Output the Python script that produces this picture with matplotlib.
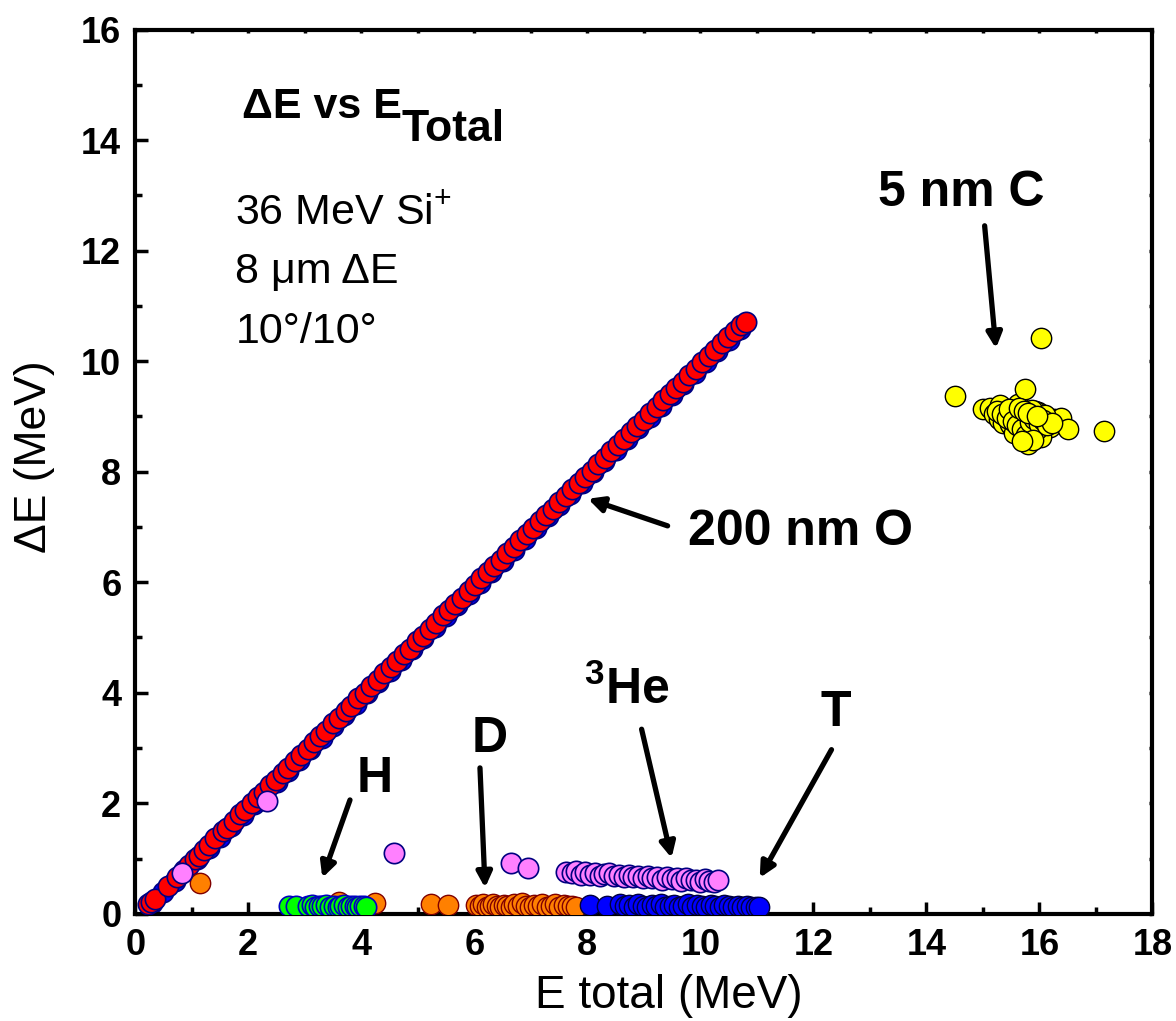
import matplotlib
matplotlib.use("Agg")
import matplotlib.pyplot as plt
from matplotlib.ticker import MultipleLocator

plt.rcParams['font.family'] = ['Liberation Sans', 'DejaVu Sans']
plt.rcParams['mathtext.fontset'] = 'custom'
plt.rcParams['mathtext.rm'] = 'Liberation Sans'
plt.rcParams['mathtext.it'] = 'Liberation Sans:italic'
plt.rcParams['mathtext.bf'] = 'Liberation Sans:bold'

# 200 nm O surface peak (diagonal band)
o_e = [0.22, 0.28, 0.35, 0.58, 0.74, 0.86, 0.95, 1.05, 1.12, 1.22, 1.31, 1.42,
       1.55, 1.63, 1.74, 1.86, 1.95, 2.06, 2.18, 2.27, 2.38, 2.49, 2.61, 2.70,
       2.82, 2.93, 3.05, 3.16, 3.27, 3.38, 3.50, 3.61, 3.73, 3.82, 3.95, 4.06,
       4.18, 4.29, 4.41, 4.52, 4.63, 4.75, 4.86, 4.98, 5.09, 5.21, 5.32, 5.44,
       5.55, 5.66, 5.78, 5.90, 6.01, 6.12, 6.24, 6.35, 6.47, 6.58, 6.70, 6.81,
       6.93, 7.04, 7.16, 7.27, 7.39, 7.50, 7.62, 7.73, 7.85, 7.96, 8.08, 8.19,
       8.31, 8.42, 8.54, 8.65, 8.77, 8.88, 9.00, 9.11, 9.23, 9.34, 9.46, 9.57,
       9.69, 9.80, 9.92, 10.03, 10.15, 10.26, 10.38, 10.49, 10.61, 10.72, 10.80]
o_de = [0.18, 0.22, 0.26, 0.50, 0.66, 0.80, 0.88, 1.00, 1.05, 1.16, 1.24, 1.37,
        1.50, 1.56, 1.68, 1.80, 1.88, 2.01, 2.12, 2.20, 2.33, 2.42, 2.55, 2.63,
        2.76, 2.87, 2.98, 3.10, 3.21, 3.31, 3.45, 3.55, 3.67, 3.76, 3.90, 4.00,
        4.12, 4.23, 4.36, 4.46, 4.58, 4.70, 4.80, 4.93, 5.03, 5.16, 5.26, 5.40,
        5.49, 5.61, 5.72, 5.85, 5.95, 6.07, 6.18, 6.30, 6.41, 6.53, 6.64, 6.76,
        6.87, 6.99, 7.10, 7.22, 7.33, 7.45, 7.56, 7.68, 7.79, 7.91, 8.02, 8.14,
        8.25, 8.37, 8.48, 8.60, 8.71, 8.83, 8.94, 9.06, 9.17, 9.29, 9.40, 9.52,
        9.63, 9.75, 9.86, 9.98, 10.09, 10.21, 10.32, 10.44, 10.55, 10.66, 10.70]

# underlying blue events along the diagonal
ob_e = [0.30, 0.50, 0.70, 0.90, 1.10, 1.30, 1.50, 1.70, 1.90, 2.10, 2.30, 2.50,
        2.70, 2.90, 3.10, 3.30, 3.50, 3.70, 3.90, 4.10, 4.30, 4.50, 4.70, 4.90,
        5.10, 5.30, 5.50, 5.70, 5.90, 6.10, 6.30, 6.50, 6.70, 6.90, 7.10, 7.30,
        7.50, 7.70, 7.90, 8.10, 8.30, 8.50, 8.70, 8.90, 9.10, 9.30, 9.50, 9.70,
        9.90, 10.10, 10.30, 10.50, 10.70]
ob_de = [0.20, 0.40, 0.59, 0.79, 0.99, 1.19, 1.39, 1.59, 1.79, 1.99, 2.19, 2.39,
         2.59, 2.79, 2.99, 3.19, 3.39, 3.59, 3.79, 3.99, 4.19, 4.39, 4.59, 4.79,
         4.99, 5.19, 5.39, 5.59, 5.79, 5.99, 6.19, 6.39, 6.59, 6.79, 6.99, 7.19,
         7.39, 7.59, 7.79, 7.99, 8.19, 8.39, 8.59, 8.79, 8.99, 9.19, 9.39, 9.59,
         9.79, 9.99, 10.19, 10.39, 10.59]

# H recoils
h_e = [2.72, 2.85, 3.05, 3.12, 3.18, 3.25, 3.31, 3.38, 3.45, 3.52, 3.58, 3.63,
       3.70, 3.76, 3.82, 3.88, 3.93, 3.98, 4.04, 4.08]
h_de = [0.15, 0.14, 0.15, 0.16, 0.13, 0.15, 0.14, 0.16, 0.13, 0.15, 0.12, 0.14,
        0.16, 0.13, 0.15, 0.14, 0.13, 0.15, 0.14, 0.13]

# D recoils
d_e = [1.15, 3.60, 4.25, 5.23, 5.53, 6.03, 6.10, 6.16, 6.22, 6.28, 6.33, 6.40,
       6.46, 6.52, 6.58, 6.65, 6.71, 6.78, 6.85, 6.92, 6.98, 7.05, 7.12, 7.20,
       7.28, 7.35, 7.42, 7.50, 7.58, 7.66, 7.73, 7.80]
d_de = [0.56, 0.22, 0.20, 0.18, 0.16, 0.16, 0.14, 0.17, 0.13, 0.15, 0.18, 0.14,
        0.12, 0.16, 0.15, 0.13, 0.17, 0.14, 0.19, 0.15, 0.12, 0.16, 0.14, 0.18,
        0.13, 0.15, 0.17, 0.12, 0.16, 0.14, 0.15, 0.13]

# 3He recoils
he_e = [0.82, 2.33, 4.58, 6.65, 6.95, 7.62, 7.72, 7.80, 7.88, 7.96, 8.05, 8.13,
        8.22, 8.30, 8.39, 8.47, 8.56, 8.64, 8.73, 8.81, 8.90, 8.98, 9.07, 9.15,
        9.24, 9.32, 9.41, 9.49, 9.58, 9.66, 9.75, 9.83, 9.92, 10.00, 10.08,
        10.16, 10.24, 10.32]
he_de = [0.74, 2.05, 1.10, 0.92, 0.82, 0.76, 0.73, 0.77, 0.71, 0.75, 0.70, 0.74,
         0.69, 0.72, 0.73, 0.68, 0.71, 0.66, 0.70, 0.67, 0.69, 0.64, 0.68, 0.65,
         0.66, 0.62, 0.67, 0.63, 0.64, 0.60, 0.65, 0.61, 0.62, 0.58, 0.63, 0.60,
         0.57, 0.61]

# T recoils
t_e = [8.05, 8.35, 8.58, 8.66, 8.74, 8.82, 8.90, 8.98, 9.06, 9.14, 9.22, 9.30,
       9.38, 9.46, 9.54, 9.62, 9.70, 9.78, 9.86, 9.94, 10.02, 10.10, 10.18,
       10.26, 10.34, 10.42, 10.50, 10.58, 10.66, 10.74, 10.82, 10.90, 10.98,
       11.03]
t_de = [0.16, 0.15, 0.17, 0.14, 0.16, 0.13, 0.17, 0.15, 0.12, 0.16, 0.14, 0.17,
        0.13, 0.15, 0.16, 0.12, 0.15, 0.17, 0.13, 0.16, 0.14, 0.12, 0.16, 0.15,
        0.13, 0.16, 0.14, 0.12, 0.15, 0.13, 0.14, 0.12, 0.13, 0.12]

# 5 nm C
c_e = [14.50, 15.00, 15.12, 15.20, 15.28, 15.30, 15.35, 15.40, 15.45, 15.50,
       15.52, 15.56, 15.60, 15.62, 15.66, 15.70, 15.72, 15.74, 15.78, 15.80,
       15.82, 15.85, 15.88, 15.90, 15.94, 15.97, 16.00, 16.04, 16.08, 16.12,
       16.18, 16.25, 16.39, 16.50, 16.03, 17.15, 15.38, 15.48, 15.58, 15.68,
       15.76, 15.84, 15.92, 16.02, 15.55, 15.65, 15.75, 15.86, 15.95, 16.10,
       15.25, 15.33, 15.42, 15.46, 15.53, 15.61, 15.69, 15.77, 15.83, 15.91,
       15.99, 16.06, 16.14, 16.22, 15.64, 15.72, 15.80, 15.88, 15.96, 15.70]
c_de = [9.37, 9.14, 9.16, 9.05, 8.96, 9.20, 8.88, 9.10, 8.95, 9.12, 8.80, 9.00,
        8.75, 9.22, 8.90, 9.05, 8.65, 9.50, 8.85, 8.50, 9.00, 8.70, 8.95, 8.60,
        8.82, 9.08, 8.69, 8.88, 8.75, 8.92, 8.80, 8.95, 8.98, 8.78, 10.42, 8.73,
        9.02, 8.86, 9.08, 8.80, 8.98, 8.74, 9.10, 8.62, 8.70, 8.95, 8.72, 9.12,
        8.78, 9.02, 9.10, 9.04, 8.98, 9.14, 8.92, 8.84, 8.78, 8.66, 8.90, 8.96,
        8.86, 8.93, 8.85, 8.88, 9.16, 9.10, 9.06, 8.58, 9.00, 8.55]

fig = plt.figure(figsize=(11.76, 10.21), dpi=100)
ax = fig.add_axes([0.115, 0.105, 0.865, 0.866])

ms = 215
ax.scatter(ob_e, ob_de, s=ms, c='#0000ff', edgecolors='#000080', linewidths=1.2, zorder=2)
ax.scatter(o_e, o_de, s=ms, c='#ff0000', edgecolors='#000080', linewidths=1.2, zorder=3)
ax.scatter(d_e, d_de, s=ms, c='#ff8000', edgecolors='#800000', linewidths=1.0, zorder=3)
ax.scatter(t_e, t_de, s=ms, c='#0000ff', edgecolors='#000040', linewidths=1.0, zorder=3)
ax.scatter(h_e, h_de, s=ms, c='#00ff00', edgecolors='#0000c0', linewidths=1.2, zorder=4)
ax.scatter(he_e, he_de, s=ms, c='#ff80ff', edgecolors='#000080', linewidths=1.2, zorder=4)
ax.scatter(c_e, c_de, s=ms, c='#ffff00', edgecolors='#000000', linewidths=1.0, zorder=3)

ax.set_xlim(0, 18)
ax.set_ylim(0, 16)
ax.xaxis.set_major_locator(MultipleLocator(2))
ax.xaxis.set_minor_locator(MultipleLocator(1))
ax.yaxis.set_major_locator(MultipleLocator(2))
ax.yaxis.set_minor_locator(MultipleLocator(1))

for s in ax.spines.values():
    s.set_linewidth(3)
ax.tick_params(which='major', direction='in', length=9, width=2.5,
               labelsize=26, pad=10)
ax.tick_params(which='minor', direction='in', length=5, width=2.5)
ax.tick_params(which='both', top=True, right=True)
for lab in ax.get_xticklabels() + ax.get_yticklabels():
    lab.set_fontweight('bold')
# short ticks on the top/right frame
for t in ax.xaxis.get_major_ticks() + ax.xaxis.get_minor_ticks():
    t.tick2line.set_markersize(2)
for t in ax.yaxis.get_major_ticks() + ax.yaxis.get_minor_ticks():
    t.tick2line.set_markersize(2)

ax.set_xlabel('E total (MeV)', fontsize=33)
ax.xaxis.set_label_coords(0.525, -0.068)
ax.set_ylabel('ΔE (MeV)', fontsize=32, labelpad=14)
ax.yaxis.set_label_coords(-0.079, 0.517)

# title with a lowered subscript
title = ax.text(1.89, 14.6, 'ΔE vs E', fontsize=31, fontweight='bold',
                va='center', ha='left')
ax.annotate('Total', xy=(1, 0), xycoords=title, xytext=(0, -10),
            textcoords='offset points', fontsize=32, fontweight='bold',
            va='baseline', ha='left')

info = ['36 MeV Si$^{+}$', '8 μm ΔE', '10°/10°']
info_y = [12.67, 11.62, 10.53]
for line, yy in zip(info, info_y):
    ax.text(1.77, yy, line, fontsize=31, va='center', ha='left')

arrow = dict(arrowstyle='-|>,head_length=0.9,head_width=0.45', lw=3.8,
             color='k', shrinkA=0, shrinkB=0)
notes = [
    ('200 nm O', (8.01, 7.51), (9.42, 7.02), (11.78, 6.9)),
    ('5 nm C', (15.23, 10.23), (15.03, 12.45), (14.62, 13.05)),
    ('H', (3.31, 0.65), (3.80, 2.06), (4.24, 2.44)),
    ('D', (6.19, 0.47), (6.10, 2.64), (6.28, 3.17)),
    (r'$\mathbf{^{3}He}$', (9.49, 1.01), (8.96, 3.34), (8.69, 4.05)),
    ('T', (11.05, 0.65), (12.32, 2.97), (12.39, 3.64)),
]
for label, tip, tail, pos in notes:
    ax.annotate('', xy=tip, xytext=tail, arrowprops=arrow, zorder=6)
    ax.text(pos[0], pos[1], label, fontsize=36, fontweight='bold',
            ha='center', va='center')

fig.savefig('out.png', dpi=100)
